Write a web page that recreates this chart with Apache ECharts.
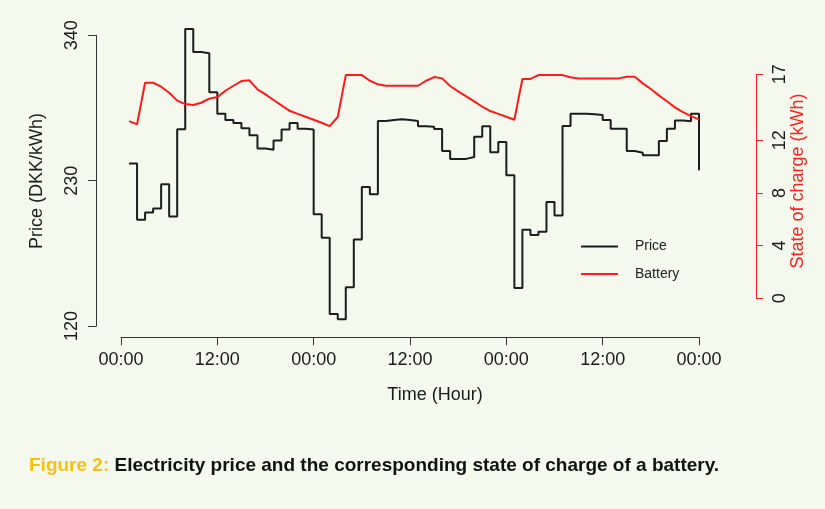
<!DOCTYPE html>
<html><head><meta charset="utf-8">
<script src="https://cdn.jsdelivr.net/npm/echarts@6/dist/echarts.min.js"></script>
<style>html,body{margin:0;padding:0;background:#f5f8ec;}#c{width:825px;height:509px;}</style>
</head><body><div id="c"></div>
<script>
const hours = [1,2,3,4,5,6,7,8,9,10,11,12,13,14,15,16,17,18,19,20,21,22,23,24,
  25,26,27,28,29,30,31,32,33,34,35,36,37,38,39,40,41,42,43,44,45,46,47,48,
  49,50,51,52,53,54,55,56,57,58,59,60,61,62,63,64,65,66,67,68,69,70,71,72];
const price = [243,200.5,205.9,208.9,227.3,203,269,344.7,327.3,326.5,296.9,280.7,
  275.9,273.6,269.6,264.3,254.4,253.4,260.5,268.8,273.6,269.3,268.8,204.6,
  186.9,129.2,125.1,149.4,185.6,225.3,219.7,275.1,275.9,276.4,275.9,275.1,
  271.1,270.8,269.1,252.4,246.5,246.5,248,263.2,271.1,251.6,259.2,234.2,
  148.9,192.9,188.9,191.4,213.9,203.6,271.3,280.7,280.7,280.2,279.7,275.9,
  269.3,269.3,252.4,251.1,249.3,249.3,260,269.3,275.6,274.9,280.7,238];
const battery = [13.45,13.2,16.36,16.36,16.06,15.6,15.0,14.74,14.67,14.84,15.15,15.27,
  15.75,16.13,16.49,16.54,15.86,15.48,15.05,14.64,14.23,14.0,13.78,13.55,
  13.32,13.07,13.76,16.94,16.94,16.94,16.51,16.24,16.13,16.13,16.13,16.13,
  16.13,16.51,16.79,16.69,16.11,15.7,15.32,14.95,14.54,14.21,14.0,13.78,
  13.55,16.64,16.65,16.94,16.94,16.94,16.94,16.77,16.69,16.69,16.69,16.69,
  16.69,16.69,16.81,16.81,16.31,15.88,15.4,14.95,14.49,14.13,13.83,13.58];
const xTickValues = [0,12,24,36,48,60,72];
const xTickLabels = ['00:00','12:00','00:00','12:00','00:00','12:00','00:00'];
const priceTicks = [120,230,340];
const socTicks = [0,4,8,12,17];

const FONT = 'Liberation Sans, Arial, sans-serif';
const chart = echarts.init(document.getElementById('c'), null, {renderer:'canvas'});
const priceData = hours.map((h,i)=>[h, price[i]]);
const battData = hours.map((h,i)=>[h, battery[i]]);

chart.setOption({
  backgroundColor: '#f5f8ec',
  animation: false,
  grid: [
    {left:121, width:578, top:35.3, height:290.8},
    {left:121, width:578, top:74.3, height:224}
  ],
  xAxis: [
    {gridIndex:0, type:'value', min:0, max:72, interval:12, position:'bottom', offset:11.2,
     axisLine:{show:true, onZero:false, lineStyle:{color:'#333', width:1}},
     axisTick:{show:true, length:8, lineStyle:{color:'#333'}},
     axisLabel:{margin:14, fontSize:18, fontFamily:FONT, color:'#1a1a1a',
       formatter:v=>{const k=xTickValues.indexOf(v);return k>=0?xTickLabels[k]:'';}},
     splitLine:{show:false}},
    {gridIndex:1, type:'value', min:0, max:72, show:false}
  ],
  yAxis: [
    {gridIndex:0, type:'value', min:priceTicks[0], max:priceTicks[2], interval:110, position:'left', offset:25,
     axisLine:{show:true, onZero:false, lineStyle:{color:'#333', width:1}},
     axisTick:{show:true, length:8, lineStyle:{color:'#333'}},
     axisLabel:{rotate:90, margin:15, fontSize:18, fontFamily:FONT, color:'#1a1a1a'},
     splitLine:{show:false}},
    {gridIndex:1, type:'value', min:0, max:17, position:'right', offset:57,
     axisLine:{show:true, onZero:false, lineStyle:{color:'#ff2020', width:1}},
     axisTick:{show:true, length:7, customValues:socTicks, lineStyle:{color:'#ff2020'}},
     axisLabel:{rotate:90, margin:15, fontSize:18, fontFamily:FONT, color:'#1a1a1a', customValues:socTicks},
     splitLine:{show:false}}
  ],
  legend: {
    orient:'vertical', left:581, top:239.5, padding:0, itemGap:13.6,
    itemWidth:37, itemHeight:2, icon:'rect',
    textStyle:{fontSize:14, fontFamily:FONT, color:'#222', padding:[0,0,0,12]},
    data:['Price','Battery']
  },
  series: [
    {name:'Price', type:'line', step:'end', xAxisIndex:0, yAxisIndex:0, data:priceData,
     showSymbol:false, symbol:'none', clip:false,
     lineStyle:{color:'#1c1c1c', width:2}, itemStyle:{color:'#1c1c1c'}},
    {name:'Battery', type:'line', xAxisIndex:1, yAxisIndex:1, data:battData,
     showSymbol:false, symbol:'none', clip:false,
     lineStyle:{color:'#ff1a1a', width:2}, itemStyle:{color:'#ff1a1a'}}
  ],
  graphic: [
    {type:'text', x:36.7, y:181, rotation:Math.PI/2,
     style:{text:'Price (DKK/kWh)', fontSize:18, fontFamily:FONT, fill:'#1a1a1a', align:'center', verticalAlign:'middle'}},
    {type:'text', x:435, y:395,
     style:{text:'Time (Hour)', fontSize:18, fontFamily:FONT, fill:'#1a1a1a', align:'center', verticalAlign:'middle'}},
    {type:'text', x:798, y:181, rotation:Math.PI/2,
     style:{text:'State of charge (kWh)', fontSize:18, fontFamily:FONT, fill:'#ff2020', align:'center', verticalAlign:'middle'}},
    {type:'text', x:29, y:466,
     style:{text:'{y|Figure 2:} {b|Electricity price and the corresponding state of charge of a battery.}',
       align:'left', verticalAlign:'middle',
       rich:{
         y:{fontSize:19, fontWeight:'bold', fontFamily:FONT, fill:'#f7c10d', color:'#f7c10d'},
         b:{fontSize:19, fontWeight:'bold', fontFamily:FONT, fill:'#111', color:'#111'}
       }, fontSize:19, fontWeight:'bold', fontFamily:FONT}}
  ]
});
</script>
</body></html>
